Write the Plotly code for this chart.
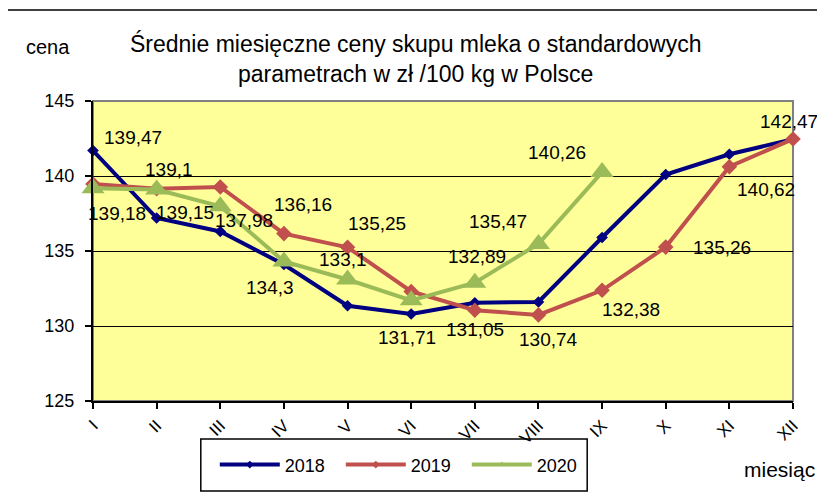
import plotly.graph_objects as go

months = ["I", "II", "III", "IV", "V", "VI", "VII", "VIII", "IX", "X", "XI", "XII"]
y2018 = [141.7, 137.2, 136.3, 134.1, 131.35, 130.8, 131.55, 131.6, 135.9, 140.1, 141.45, 142.45]
y2019 = [139.47, 139.15, 139.27, 136.16, 135.25, 132.3, 131.05, 130.74, 132.38, 135.26, 140.62, 142.47]
y2020 = [139.18, 139.1, 137.98, 134.3, 133.1, 131.71, 132.89, 135.47, 140.26]
yticks = [125, 130, 135, 140, 145]

# label placement (series, month index, xshift, yshift) -- styling only
label_spec = [
    ("2019", 0, 40, 46), ("2020", 0, 24, -25),
    ("2020", 1, 12, 20), ("2019", 1, 28, -24),
    ("2020", 2, 24, -14),
    ("2019", 3, 19, 29), ("2020", 3, -14, -26),
    ("2019", 4, 29, 24), ("2020", 4, -5, 20),
    ("2020", 5, -4, -37),
    ("2019", 6, 0, -19), ("2020", 6, 2, 26),
    ("2020", 7, -40, 22), ("2019", 7, 10, -25),
    ("2020", 8, -45, 20), ("2019", 8, 29, -19),
    ("2019", 9, 56, 0),
    ("2019", 10, 37, -23),
    ("2019", 11, -4, 17),
]
series = {"2018": y2018, "2019": y2019, "2020": y2020}
colors = {"2018": "#000080", "2019": "#C0504D", "2020": "#9BBB59"}

FONT = "Liberation Sans, Arial, sans-serif"

fig = go.Figure()
fig.add_trace(go.Scatter(x=months, y=y2018, name="2018", mode="lines+markers",
                         line=dict(color=colors["2018"], width=4),
                         marker=dict(symbol="diamond", size=9, color=colors["2018"]),
                         cliponaxis=False, showlegend=False))
fig.add_trace(go.Scatter(x=months, y=y2019, name="2019", mode="lines+markers",
                         line=dict(color=colors["2019"], width=4),
                         marker=dict(symbol="diamond", size=12, color=colors["2019"]),
                         cliponaxis=False, showlegend=False))
fig.add_trace(go.Scatter(x=months[:len(y2020)], y=y2020, name="2020", mode="lines+markers",
                         line=dict(color=colors["2020"], width=4),
                         marker=dict(symbol="triangle-up", size=20, color=colors["2020"]),
                         cliponaxis=False, showlegend=False))
# legend entries with small markers, as in the reference legend
for name, sym in [("2018", "diamond"), ("2019", "diamond"), ("2020", "triangle-up")]:
    fig.add_trace(go.Scatter(x=[None], y=[None], name=name, mode="lines+markers",
                             line=dict(color=colors[name], width=4),
                             marker=dict(symbol=sym, size=6, color=colors[name]),
                             showlegend=True))

annotations = []
for s, i, xs, ys in label_spec:
    v = series[s][i]
    annotations.append(dict(x=months[i], y=v, xref="x", yref="y",
                            text=f"{v:g}".replace(".", ","), showarrow=False,
                            xshift=xs, yshift=ys, xanchor="center", yanchor="middle",
                            font=dict(family=FONT, size=19, color="black")))

annotations.append(dict(x=0.461, y=1.143, xref="paper", yref="paper",
                        text="Średnie miesięczne ceny skupu mleka o standardowych<br>parametrach w zł /100 kg w Polsce",
                        showarrow=False, align="center", xanchor="center", yanchor="middle",
                        font=dict(family=FONT, size=23, color="black")))
annotations.append(dict(x=-0.064, y=1.18, xref="paper", yref="paper",
                        text="cena", showarrow=False, xanchor="center", yanchor="middle",
                        font=dict(family=FONT, size=20, color="black")))
annotations.append(dict(x=0.981, y=-0.227, xref="paper", yref="paper",
                        text="miesiąc", showarrow=False, xanchor="center", yanchor="middle",
                        font=dict(family=FONT, size=21, color="black")))

shapes = [
    dict(type="rect", xref="paper", yref="paper", x0=0, y0=0, x1=1, y1=1,
         line=dict(color="#808080", width=2), layer="between"),
    dict(type="rect", xref="paper", yref="paper", x0=-0.1257, y0=-0.38, x1=1.08, y1=1.3033,
         line=dict(color="black", width=1.5), layer="below"),
    dict(type="rect", xref="paper", yref="paper", x0=0.154, y0=-0.3, x1=0.706, y1=-0.127,
         line=dict(color="black", width=1.5), fillcolor="white", layer="below"),
]

fig.update_layout(
    width=825, height=501, autosize=False,
    margin=dict(l=85, r=40, t=93, b=108),
    paper_bgcolor="white", plot_bgcolor="#FFFF99",
    font=dict(family=FONT, color="black"),
    showlegend=True,
    legend=dict(orientation="h", x=0.174, y=-0.213, xanchor="left", yanchor="middle",
                borderwidth=0, bgcolor="rgba(0,0,0,0)",
                font=dict(family=FONT, size=18, color="black"),
                entrywidth=51, entrywidthmode="pixels",
                itemwidth=60),
    annotations=annotations,
    shapes=shapes,
)
fig.update_xaxes(type="category", range=[0, 11], showgrid=False, automargin=False,
                 showline=True, linecolor="black", linewidth=2,
                 ticks="outside", ticklen=6, tickwidth=1.5, tickcolor="black",
                 tickangle=-45, tickfont=dict(family=FONT, size=17, color="black"),
                 zeroline=False)
fig.update_yaxes(range=[125, 145], tickvals=yticks, showgrid=True, gridcolor="black", gridwidth=1,
                 showline=True, linecolor="black", linewidth=2, automargin=False,
                 ticks="outside", ticklen=6, tickwidth=1.5, tickcolor="black",
                 ticklabelstandoff=7,
                 tickfont=dict(family=FONT, size=18, color="black"), zeroline=False)

fig.write_html("out.html")
